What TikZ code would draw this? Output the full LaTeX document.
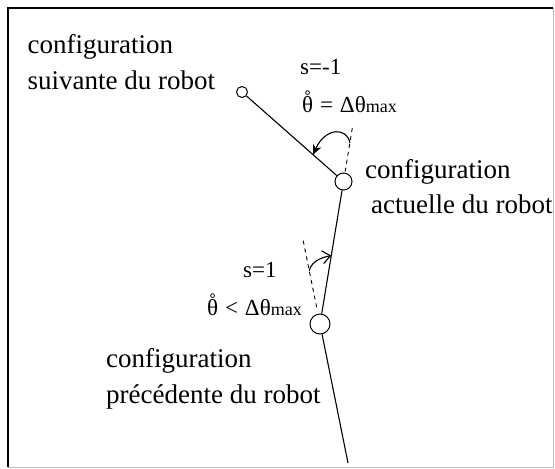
\documentclass[tikz,border=0pt]{standalone}
\usepackage{fontspec}
\setmainfont{Liberation Serif}
\usetikzlibrary{arrows.meta,calc}
\tikzset{
  joint/.style = {draw, circle, inner sep=0pt, line width=1pt},
  link/.style = {line width=1.1pt},
  ext/.style = {dash pattern=on 4pt off 4pt, line width=0.9pt},
  bigtxt/.style = {anchor=base west, inner sep=0pt, font=\fontsize{27}{36}\selectfont},
  smalltxt/.style = {anchor=base west, inner sep=0pt, font=\fontsize{23}{26}\selectfont},
}
\newcommand{\thmax}{{\fontsize{18}{20}\selectfont max}}
\newcommand{\rtheta}{\ooalign{θ\cr\hidewidth\raisebox{0.2em}{˚}\hidewidth\cr}}

\begin{document}
\begin{tikzpicture}[x=1pt, y=-1pt]
	\useasboundingbox (0,0) rectangle (555,469);
	\draw[line width=2pt] (8,467) -- (8,8) -- (553,8);
	\draw[black!25] (553,8) -- (553,467) -- (8,467);

	\node[joint, minimum size=11pt] (next) at (242,92) {};
	\node[joint, minimum size=17pt] (curr) at (343.5,181.5) {};
	\node[joint, minimum size=20pt] (prev) at (320,324) {};
	\coordinate (bot) at (348,463);

	\draw[link] (next) -- (curr);
	\draw[link] (curr) -- (prev);
	\draw[link] (prev) -- (bot);

	% prolongements en pointilles
	\draw[ext] ($(curr)!-0.07!(prev)$) -- ($(curr)!-0.39!(prev)$);
	\draw[ext] ($(prev)!-0.12!(bot)$) -- ($(prev)!-0.62!(bot)$);

	\draw[line width=1.1pt, -{Stealth[length=10pt,width=9pt]}] ($(curr)!-0.27!(prev)$) .. controls (348,128) and (326,126) .. ($(next)!0.7!(curr)$);
	\draw[line width=1.1pt, -{Straight Barb[length=8pt,width=13pt]}] ($(prev)!-0.38!(bot)$) .. controls (310,264) and (318,258) .. ($(curr)!0.52!(prev)$);

	\node[bigtxt] (t1) at (27.5,53) {configuration};
	\node[bigtxt] (t2) at (27.5,89) {suivante du robot};
	\node[bigtxt] (t3) at (365,178) {configuration};
	\node[bigtxt] (t4) at (371,213) {actuelle du robot};
	\node[bigtxt] (t5) at (106,367) {configuration};
	\node[bigtxt] (t6) at (106,403) {précédente du robot};

	\node[smalltxt] (s1) at (300,74) {s=-1};
	\node[smalltxt] (s2) at (302,112) {\rtheta\hspace{0.3em}=\hspace{0.3em}Δθ\thmax};
	\node[smalltxt] (s3) at (243,277) {s=1};
	\node[smalltxt] (s4) at (207,315) {\rtheta\hspace{0.3em}<\hspace{0.3em}Δθ\thmax};
\end{tikzpicture}
\end{document}
